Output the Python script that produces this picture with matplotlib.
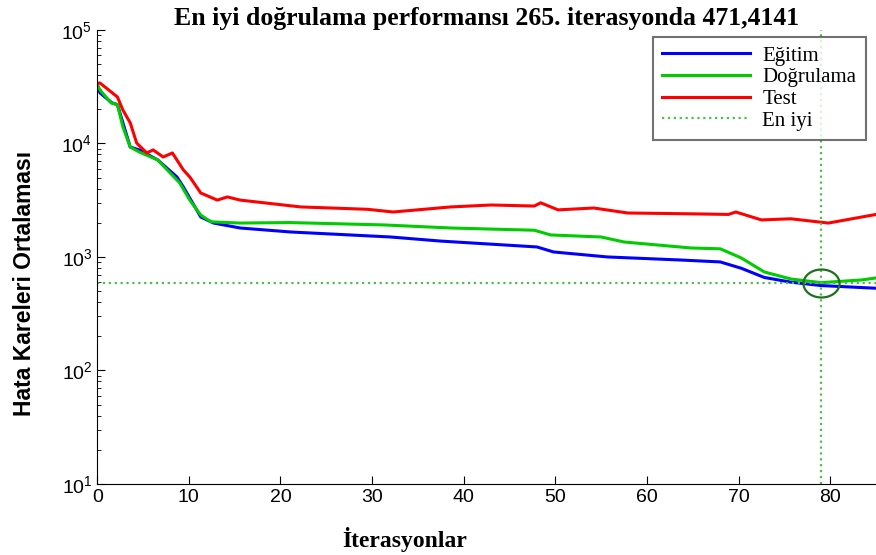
import numpy as np
import matplotlib
matplotlib.use("Agg")
import matplotlib.pyplot as plt
from matplotlib.path import Path

# values (iteration, mean squared error)
train_x = [0, 0.3, 1.6, 2.2, 3.6, 4.6, 6.6, 8.7, 9.4, 11.3, 12.7, 15.6, 21.1, 32,
           37.5, 48, 49.8, 55.7, 63.7, 68, 70.3, 72.8, 75.7, 79, 85]
train_y = [33000, 27900, 22800, 22000, 9300, 8770, 7160, 5070, 4140, 2250, 1990,
           1800, 1660, 1500, 1380, 1225, 1107, 1000, 940, 904, 795, 660, 600, 560, 530]

val_x = [0, 0.3, 1.5, 2.2, 2.8, 3.6, 4.6, 6.6, 9.0, 10.1, 11.3, 12.4, 15.6, 21,
         31.3, 38.6, 47.7, 49.5, 55, 57.5, 64.8, 68, 70.3, 72.8, 75.7, 79, 83.4, 85]
val_y = [33000, 29600, 22800, 22000, 14000, 9300, 8400, 7160, 4490, 3170, 2340,
         2040, 1990, 2010, 1915, 1800, 1720, 1563, 1500, 1355, 1200, 1180, 980,
         738, 640, 594, 627, 653]

test_x = [0, 0.3, 2.2, 2.8, 3.6, 4.3, 5.4, 6.1, 7.2, 8.2, 9.4, 10.1, 11.3, 13.1,
          14.2, 15.6, 22.2, 29.5, 32.3, 38.6, 43, 47.7, 48.4, 50.3, 54.2, 57.9,
          64.8, 68.9, 69.7, 72.5, 75.7, 79.8, 85]
test_y = [34000, 34100, 25700, 19700, 15200, 10100, 8250, 8770, 7600, 8250, 5850,
          5070, 3660, 3170, 3380, 3170, 2760, 2630, 2490, 2760, 2870, 2810, 3000,
          2600, 2700, 2440, 2400, 2370, 2490, 2120, 2170, 1990, 2370]

best_epoch = 79
best_value = 594

title = "En iyi doğrulama performansı 265. iterasyonda 471,4141"

fig = plt.figure(figsize=(8.76, 5.55), dpi=100)
ax = fig.add_axes([0.111, 0.128, 0.889, 0.818])

ax.semilogy(train_x, train_y, color=(0, 0, 1), lw=2.2, label="Eğitim")
ax.semilogy(val_x, val_y, color=(0, 0.8, 0), lw=2.2, label="Doğrulama")
ax.semilogy(test_x, test_y, color=(1, 0, 0), lw=2.2, label="Test")
ax.axvline(best_epoch, color=(0.3, 0.75, 0.3), ls=":", lw=1.6, label="En iyi")
ax.axhline(best_value, color=(0.3, 0.75, 0.3), ls=":", lw=1.6)

# ellipse marker round the best point
t = np.linspace(0, 2 * np.pi, 60)
ell = Path(np.column_stack([1.29 * np.cos(t), np.sin(t)]))
ax.plot([best_epoch], [best_value], marker=ell, markersize=26, mfc="none",
        mec=(0.1, 0.45, 0.1), mew=1.6, ls="none")

ax.set_xlim(0, 85)
ax.set_ylim(10, 1e5)
ax.set_xticks(range(0, 90, 10))
ax.tick_params(which="both", direction="in", labelsize=14)
ax.tick_params(which="major", length=6)
ax.tick_params(which="minor", length=3)
for lab in ax.get_xticklabels() + ax.get_yticklabels():
    lab.set_fontfamily("Liberation Sans")
ax.spines["top"].set_visible(False)
ax.spines["right"].set_visible(False)

ax.set_title(title, fontsize=18.5, fontweight="bold", family="Liberation Serif", pad=3)
ax.set_xlabel("İterasyonlar", fontsize=17, fontweight="bold",
              family="Liberation Serif")
ax.xaxis.set_label_coords((405 - 97) / 779, -0.095)
ax.set_ylabel("Hata Kareleri Ortalaması", fontsize=16.5, fontweight="bold",
              family="Liberation Sans")
ax.yaxis.set_label_coords((36 - 97) / 779, (484 - 283) / 454)

leg = ax.legend(loc="upper right", bbox_to_anchor=(1.0, 1.008), fancybox=False,
                edgecolor="0.3", handlelength=4.2, handletextpad=0.6, borderpad=0.45,
                labelspacing=0.1, prop={"family": "Liberation Serif", "size": 15})
leg.get_frame().set_linewidth(1.5)

fig.savefig("out.png", dpi=100)
